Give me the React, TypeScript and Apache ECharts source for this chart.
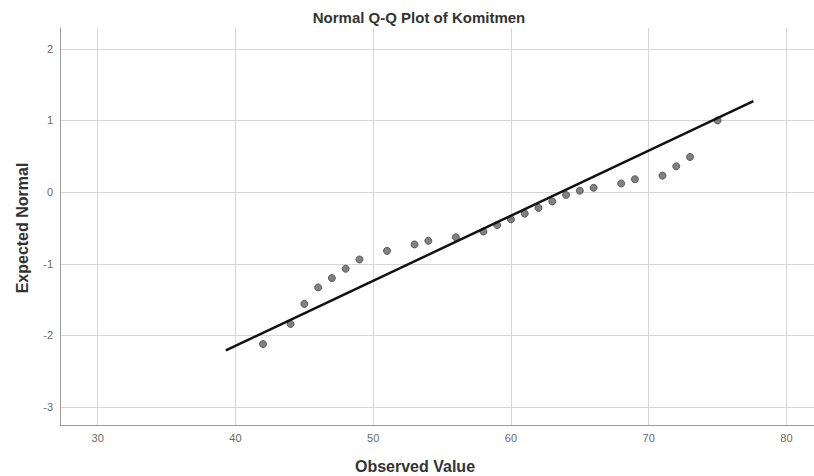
import React, { useEffect, useRef } from "react";
import * as echarts from "echarts";

const titleText = "Normal Q-Q Plot of Komitmen";
const xAxisName = "Observed Value";
const yAxisName = "Expected Normal";

// Observed values (x) and expected normal scores (y)
const observed = [42, 44, 45, 46, 47, 48, 49, 51, 53, 54, 56, 58, 59, 60, 61, 62, 63, 64, 65, 66, 68, 69, 71, 72, 73, 75];
const expected = [-2.12, -1.84, -1.56, -1.33, -1.2, -1.07, -0.94, -0.82, -0.73, -0.68, -0.63, -0.55, -0.46, -0.38, -0.3, -0.22, -0.13, -0.04, 0.02, 0.06, 0.12, 0.18, 0.23, 0.36, 0.49, 1.0];

// Reference line endpoints
const lineX = [39.3, 77.6];
const lineY = [-2.21, 1.27];

const xRange = [27.26, 82.0];
const yRange = [-3.25, 2.29];

const FONT = "Liberation Sans, Arial, sans-serif";

export default function App() {
  const ref = useRef<HTMLDivElement>(null);
  useEffect(() => {
    document.body.style.margin = "0";
    if (!ref.current) return;
    const chart = echarts.init(ref.current, null, { renderer: "svg" });
    const isTick = (v: number, step: number) => Math.abs(v / step - Math.round(v / step)) < 1e-6;
    chart.setOption({
      animation: false,
      backgroundColor: "#ffffff",
      grid: { left: 60, top: 28, right: 0, bottom: 51, containLabel: false },
      xAxis: {
        type: "value",
        min: xRange[0],
        max: xRange[1],
        splitNumber: 5,
        minInterval: 10,
        maxInterval: 10,
        axisLine: { show: true, onZero: false, lineStyle: { color: "#9a9a9a", width: 1 } },
        axisTick: { show: false },
        axisLabel: {
          show: true,
          margin: 7,
          color: "#6a6a6a",
          fontSize: 11,
          fontFamily: FONT,
          showMinLabel: false,
          showMaxLabel: false,
          formatter: (v: number) => (isTick(v, 10) ? String(Math.round(v)) : ""),
        },
        splitLine: { show: true, showMinLine: false, showMaxLine: false, lineStyle: { color: "#d6d6d6", width: 1 } },
      },
      yAxis: {
        type: "value",
        min: yRange[0],
        max: yRange[1],
        splitNumber: 5,
        minInterval: 1,
        maxInterval: 1,
        axisLine: { show: true, onZero: false, lineStyle: { color: "#9a9a9a", width: 1 } },
        axisTick: { show: false },
        axisLabel: {
          show: true,
          margin: 7,
          color: "#6a6a6a",
          fontSize: 11,
          fontFamily: FONT,
          showMinLabel: false,
          showMaxLabel: false,
          formatter: (v: number) => (isTick(v, 1) ? String(Math.round(v)) : ""),
        },
        splitLine: { show: true, showMinLine: false, showMaxLine: false, lineStyle: { color: "#d6d6d6", width: 1 } },
      },
      graphic: [
        {
          type: "text",
          x: 419,
          y: 17,
          style: {
            text: titleText,
            fill: "#333333",
            font: `bold 15px ${FONT}`,
            textAlign: "center",
            textVerticalAlign: "middle",
          },
        },
        {
          type: "text",
          x: 415,
          y: 466,
          style: {
            text: xAxisName,
            fill: "#333333",
            font: `bold 16px ${FONT}`,
            textAlign: "center",
            textVerticalAlign: "middle",
          },
        },
        {
          type: "text",
          x: 22,
          y: 228,
          rotation: Math.PI / 2,
          style: {
            text: yAxisName,
            fill: "#333333",
            font: `bold 16px ${FONT}`,
            textAlign: "center",
            textVerticalAlign: "middle",
          },
        },
      ],
      series: [
        {
          type: "scatter",
          data: observed.map((x, i) => [x, expected[i]]),
          symbol: "circle",
          symbolSize: 7,
          itemStyle: { color: "#616161", borderColor: "#444444", borderWidth: 1 },
          z: 2,
        },
        {
          type: "line",
          data: lineX.map((x, i) => [x, lineY[i]]),
          symbol: "none",
          lineStyle: { color: "#111111", width: 2.5 },
          z: 3,
        },
      ],
    });
    return () => chart.dispose();
  }, []);
  return <div ref={ref} style={{ width: 814, height: 476, position: "absolute", left: 0, top: 0 }} />;
}
